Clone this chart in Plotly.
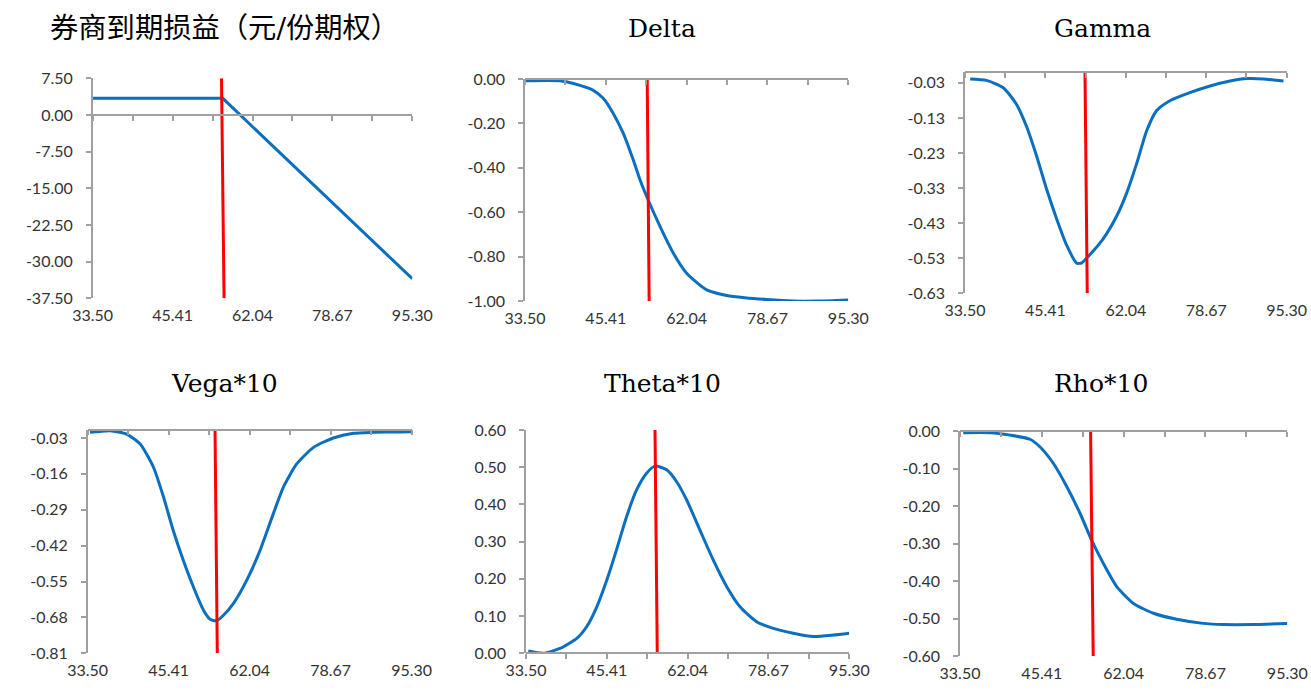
import plotly.graph_objects as go

# ---------------- data ----------------
x_tick_pos = [0, 25, 50, 75, 100]
x_tick_labels = ["33.50", "45.41", "62.04", "78.67", "95.30"]
x_minor_pos = [0, 12.5, 25, 37.5, 50, 62.5, 75, 87.5, 100]

titles = ["券商到期损益（元/份期权）", "Delta", "Gamma", "Vega*10", "Theta*10", "Rho*10"]

payoff_x = [0, 40.7, 100]
payoff_y = [3.4, 3.4, -33.5]

delta_x = [0, 10.8, 15, 21, 24.2, 27.3, 30.4, 33.5, 35.6, 38.1, 41.8, 45.9, 50, 56.2, 62.4, 68, 74.7, 83, 90.2, 100]
delta_y = [-0.008, -0.008, -0.02, -0.05, -0.087, -0.155, -0.245, -0.365, -0.455, -0.545, -0.665, -0.785, -0.875,
           -0.95, -0.975, -0.985, -0.993, -1.0, -1.0, -0.995]

gamma_x = [1.6, 6.7, 11.9, 16, 19.2, 22.3, 25.4, 28.5, 31.6, 34.7, 36.3, 38.3, 43, 47.2, 50.3, 53.4, 56.5, 59.6,
           63.7, 69.9, 76.2, 82.4, 87.6, 92.7, 99]
gamma_y = [-0.019, -0.023, -0.044, -0.091, -0.156, -0.24, -0.334, -0.418, -0.493, -0.544, -0.543, -0.525, -0.474,
           -0.409, -0.343, -0.259, -0.166, -0.109, -0.081, -0.058, -0.039, -0.025, -0.018, -0.019, -0.025]

vega_x = [0.7, 6.9, 12, 16.2, 20.3, 23.4, 26.4, 29.5, 32.6, 35.7, 37.8, 39.8, 41.9, 45, 49.1, 53.2, 57.3, 60.4,
          64.5, 69.7, 75.8, 82, 88.2, 96.4, 100]
vega_y = [-0.0095, -0.0035, -0.0156, -0.052, -0.136, -0.244, -0.365, -0.473, -0.569, -0.653, -0.687, -0.692,
          -0.672, -0.629, -0.545, -0.437, -0.304, -0.208, -0.124, -0.064, -0.03, -0.013, -0.0095, -0.008, -0.007]

theta_x = [0.7, 5.4, 10.5, 15.7, 18.8, 21.9, 25, 28, 31.1, 34.2, 37.3, 39.9, 43.5, 46.6, 49.7, 53.8, 57.9, 62.1,
           66.2, 71.3, 76.5, 82.7, 88.9, 95.1, 100]
theta_y = [0.006, 0.0, 0.013, 0.04, 0.072, 0.125, 0.197, 0.278, 0.367, 0.439, 0.484, 0.503, 0.493, 0.461, 0.412,
           0.331, 0.251, 0.179, 0.125, 0.085, 0.067, 0.054, 0.045, 0.049, 0.054]

rho_x = [1, 9.2, 15.3, 21.4, 24.4, 28.5, 32.6, 36.7, 40.2, 43.8, 47.9, 53, 59.1, 66.2, 74.3, 80.4, 89.6, 100]
rho_y = [-0.0044, -0.0044, -0.011, -0.022, -0.042, -0.086, -0.148, -0.22, -0.291, -0.353, -0.415, -0.46, -0.486,
         -0.502, -0.513, -0.516, -0.516, -0.513]

# red marker line: x at top, x at bottom
red_x = [[40.3, 41.1], [37.8, 38.4], [37.3, 38.0], [39.3, 40.0], [39.9, 40.6], [39.9, 40.7]]

y_ranges = [[-37.5, 7.5], [-1.0, 0.0], [-0.63, 0.0], [-0.81, 0.0], [0.0, 0.6], [-0.6, 0.0]]
y_ticks = [
    [-37.5, -30.0, -22.5, -15.0, -7.5, 0.0, 7.5],
    [-1.0, -0.8, -0.6, -0.4, -0.2, 0.0],
    [-0.63, -0.53, -0.43, -0.33, -0.23, -0.13, -0.03],
    [-0.81, -0.68, -0.55, -0.42, -0.29, -0.16, -0.03],
    [0.0, 0.1, 0.2, 0.3, 0.4, 0.5, 0.6],
    [-0.6, -0.5, -0.4, -0.3, -0.2, -0.1, 0.0],
]

series = [(payoff_x, payoff_y), (delta_x, delta_y), (gamma_x, gamma_y),
          (vega_x, vega_y), (theta_x, theta_y), (rho_x, rho_y)]

# ---------------- layout geometry ----------------
W, H = 1311, 695
# plot boxes in pixels: left, right, top, bottom
boxes = [
    (92.7, 412.3, 78.3, 298.3),
    (525.0, 848.3, 79.0, 301.0),
    (965.0, 1286.7, 72.3, 293.3),
    (87.7, 411.7, 429.7, 653.3),
    (526.0, 849.3, 430.0, 653.3),
    (960.0, 1287.3, 431.0, 656.0),
]
title_pos = [(222, 28), (662, 28), (1102, 28), (224, 383), (662, 383), (1101, 383)]

BLUE = "#0B6FC0"
RED = "#FF0000"
AXIS = "#A0A0A0"
TICKFONT = dict(family="Lato, Liberation Sans, sans-serif", size=16, color="#333333")

fig = go.Figure()
layout = dict(
    width=W, height=H, margin=dict(l=0, r=0, t=0, b=0, pad=0, autoexpand=False),
    paper_bgcolor="white", plot_bgcolor="white", showlegend=False,
)
annotations = []

for i in range(6):
    n = i + 1
    xa = "x" if n == 1 else f"x{n}"
    ya = "y" if n == 1 else f"y{n}"
    ov = f"x{n + 6}"
    l, r, t, b = boxes[i]
    xd = [l / W, r / W]
    yd = [1 - b / H, 1 - t / H]
    ymin, ymax = y_ranges[i]

    sx, sy = series[i]
    if i == 0:
        ln = dict(color=BLUE, width=3, shape="linear")
    else:
        ln = dict(color=BLUE, width=3, shape="spline", smoothing=0.6)
    fig.add_trace(go.Scatter(x=sx, y=sy, mode="lines", xaxis=xa, yaxis=ya, line=ln, hoverinfo="skip"))
    fig.add_trace(go.Scatter(x=red_x[i], y=[ymax, ymin], mode="lines", xaxis=xa, yaxis=ya,
                             line=dict(color=RED, width=3), hoverinfo="skip"))
    fig.add_trace(go.Scatter(x=[None], y=[None], xaxis=ov, yaxis=ya, hoverinfo="skip"))

    zero_frac = yd[0] + (0 - ymin) / (ymax - ymin) * (yd[1] - yd[0])

    layout["xaxis" if n == 1 else f"xaxis{n}"] = dict(
        domain=xd, anchor=ya, range=[0, 100], showgrid=False, zeroline=False, showline=False,
        ticks="", tickmode="array", tickvals=x_tick_pos, ticktext=x_tick_labels,
        tickfont=TICKFONT, ticklabelstandoff=6, automargin=False,
    )
    layout[f"xaxis{n + 6}"] = dict(
        domain=xd, anchor="free", overlaying=xa, position=zero_frac, range=[0, 100],
        showgrid=False, zeroline=False, showline=True, linecolor=AXIS, linewidth=1.5,
        ticks="outside", ticklen=5, tickwidth=1.5, tickcolor=AXIS,
        tickmode="array", tickvals=x_minor_pos, showticklabels=False, automargin=False,
    )
    layout["yaxis" if n == 1 else f"yaxis{n}"] = dict(
        domain=yd, anchor=xa, range=[ymin, ymax], showgrid=False, zeroline=False,
        showline=True, linecolor=AXIS, linewidth=1.5,
        ticks="outside", ticklen=5, tickwidth=1.5, tickcolor=AXIS,
        tickmode="array", tickvals=y_ticks[i], ticktext=[f"{v:.2f}" for v in y_ticks[i]],
        tickfont=TICKFONT, ticklabelstandoff=10, automargin=False,
    )
    tx, ty = title_pos[i]
    if i == 0:
        tfont = dict(family="DejaVu Serif, Noto Sans CJK SC, serif", size=28.3, color="black")
        tx = 224
    else:
        tfont = dict(family="DejaVu Serif, serif", size=25, color="black")
    annotations.append(dict(text=titles[i], x=tx / W, y=1 - ty / H, xref="paper", yref="paper",
                            showarrow=False, xanchor="center", yanchor="middle", font=tfont))

layout["annotations"] = annotations
fig.update_layout(**layout)
fig.write_html("out.html")
